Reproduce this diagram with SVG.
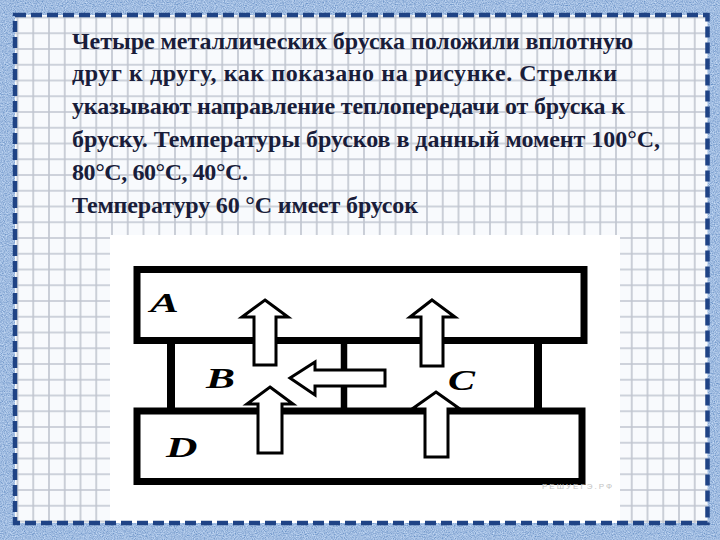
<svg xmlns="http://www.w3.org/2000/svg" width="720" height="540" viewBox="0 0 720 540">
<defs>
<filter id="noise" x="0" y="0" width="100%" height="100%">
<feTurbulence type="fractalNoise" baseFrequency="0.9" numOctaves="2" seed="7" result="n"/>
<feColorMatrix in="n" type="matrix" values="0.6 0 0 0 0.05  0.6 0 0 0 0.2  0.5 0 0 0 0.5  0 0 0 0 1"/>
</filter>
<pattern id="grid" patternUnits="userSpaceOnUse" x="9.625" y="9.625" width="15.75" height="15.75">
<path d="M0 7.875H15.75M7.875 0V15.75" stroke="#c0c5cf" stroke-width="1.6" fill="none"/>
</pattern>
<style>
.bar{fill:#fff;stroke:#000;stroke-width:7}
.wall{stroke:#000;stroke-width:8;fill:none}
.arrow{fill:#fff;stroke:#000;stroke-width:3;stroke-linejoin:miter}
.lbl{font-family:"Liberation Serif","Times New Roman",serif;font-style:italic;font-weight:bold;font-size:30px;fill:#000}
.q{font-family:"Liberation Serif","Times New Roman",serif;font-weight:bold;font-size:24px;fill:#191d3a}
.wm{font-family:"Liberation Sans",Arial,sans-serif;font-size:8px;fill:#c4c4c4}
</style>
</defs>
<rect x="0" y="0" width="720" height="540" fill="#5a80c4" filter="url(#noise)"/>
<rect x="15" y="15" width="692.5" height="508" fill="#f8fafd"/>
<rect x="15" y="15" width="692.5" height="508" fill="url(#grid)"/>
<rect x="110" y="235" width="510" height="288" fill="#fff"/>
<rect x="15" y="15" width="692.5" height="508" fill="none" stroke="#1f4385" stroke-width="4.5" stroke-dasharray="11 5"/>
<g id="question">
<text class="q" x="72" y="48.5" textLength="561" lengthAdjust="spacing">Четыре металлических бруска положили вплотную</text>
<text class="q" x="72" y="81.4" textLength="545" lengthAdjust="spacing">друг к другу, как показано на рисунке. Стрелки</text>
<text class="q" x="72" y="114.3" textLength="553" lengthAdjust="spacing">указывают направление теплопередачи от бруска к</text>
<text class="q" x="72" y="147.2" textLength="588" lengthAdjust="spacing">бруску. Температуры брусков в данный момент 100°С,</text>
<text class="q" x="72" y="180.1" textLength="176" lengthAdjust="spacing">80°С, 60°С, 40°С.</text>
<text class="q" x="72" y="213" textLength="346" lengthAdjust="spacing">Температуру 60 °С имеет брусок</text>
</g>
<g id="bar-A">
<rect class="bar" x="137" y="269.5" width="447" height="71"/>
<text class="lbl" style="font-size:27px" transform="translate(150 312) scale(1.6 1)">A</text>
</g>
<g id="bar-D">
<rect class="bar" x="137" y="411" width="445" height="70.5"/>
<text class="lbl" transform="translate(166 457) scale(1.45 1)">D</text>
</g>
<g id="bar-B">
<line class="wall" x1="171" y1="343" x2="171" y2="408"/>
<line class="wall" x1="344" y1="343" x2="344" y2="408" style="stroke-width:6.5"/>
<text class="lbl" transform="translate(206 388) scale(1.45 1)">B</text>
</g>
<g id="bar-C">
<line class="wall" x1="538" y1="343" x2="538" y2="408"/>
<text class="lbl" transform="translate(448 390) scale(1.35 1)">C</text>
</g>
<g id="connectors">
<polygon class="arrow" points="265,300 288,317 276,317 276,365 254,365 254,317 242,317"/>
<polygon class="arrow" points="270,387 293,404 282,404 282,453 258,453 258,404 247,404"/>
<polygon class="arrow" points="432,300 455,317 443,317 443,366 421,366 421,317 410,317"/>
<polygon class="arrow" points="436,392 460,409 448,409 448,457 425,457 425,409 412,409"/>
<polygon class="arrow" points="290,378 315,362 315,370 385,370 385,386 315,386 315,395"/>
</g>
<text class="wm" x="542" y="489" textLength="70" lengthAdjust="spacing">РЕШУЕГЭ.РФ</text>
</svg>
